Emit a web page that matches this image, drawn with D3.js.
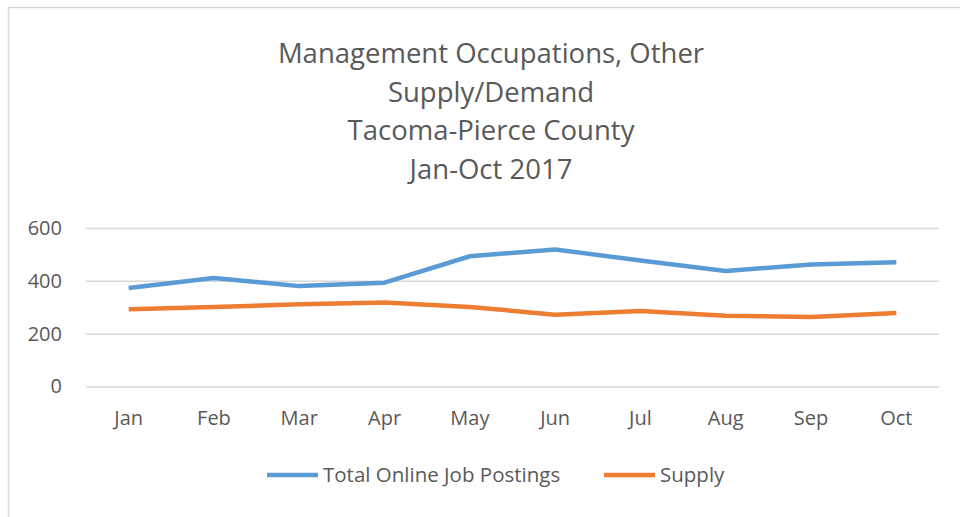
<!DOCTYPE html>
<html>
<head>
<meta charset="utf-8">
<script src="https://cdn.jsdelivr.net/npm/d3@7"></script>
<style>
  body { margin: 0; background: #fff; }
  text { font-family: "Open Sans", sans-serif; fill: #595959; }
</style>
</head>
<body>
<div id="chart"></div>
<script>
// chart data
var months = ["Jan", "Feb", "Mar", "Apr", "May", "Jun", "Jul", "Aug", "Sep", "Oct"];
var postings = [373, 411, 380, 393, 493, 519, 477, 437, 462, 470];
var supply = [292, 301, 311, 318, 301, 272, 286, 268, 263, 278];
var yTicks = [0, 200, 400, 600];
var titleLines = ["Management Occupations, Other", "Supply/Demand", "Tacoma-Pierce County", "Jan-Oct 2017"];
var seriesNames = ["Total Online Job Postings", "Supply"];
var colors = ["#5B9BD5", "#ED7D31"];

var svg = d3.select("#chart").append("svg")
    .attr("width", 960)
    .attr("height", 517);

// outer chart border
svg.append("rect")
    .attr("x", 8.5).attr("y", 7.5)
    .attr("width", 980).attr("height", 540)
    .attr("fill", "none")
    .attr("stroke", "#D9D9D9")
    .attr("stroke-width", 1.5);

// title
svg.append("g").selectAll("text")
    .data(titleLines)
    .enter().append("text")
    .attr("x", 491)
    .attr("y", function (d, i) { return 63 + i * 38.7; })
    .attr("text-anchor", "middle")
    .style("font-size", "27.5px")
    .text(function (d) { return d; });

var x = d3.scaleBand()
    .domain(months)
    .range([86, 939]);

var y = d3.scaleLinear()
    .domain([0, 600])
    .range([386.5, 228]);

// gridlines + y labels
var yAxis = svg.append("g")
    .attr("transform", "translate(86,0)")
    .call(d3.axisLeft(y).tickValues(yTicks).tickSize(-853).tickPadding(24));
yAxis.select(".domain").remove();
yAxis.selectAll("line").attr("stroke", "#D9D9D9").attr("stroke-width", 1.5);
yAxis.selectAll("text").style("font-size", "20px").attr("fill", "#595959");

// x labels
var xAxis = svg.append("g")
    .attr("transform", "translate(0,386.5)")
    .call(d3.axisBottom(x).tickSize(0).tickPadding(24));
xAxis.select(".domain").remove();
xAxis.selectAll("text").style("font-size", "20px").attr("fill", "#595959");

// lines
var line = d3.line()
    .x(function (d, i) { return x(months[i]) + x.bandwidth() / 2; })
    .y(function (d) { return y(d); });

svg.append("g").selectAll("path")
    .data([postings, supply])
    .enter().append("path")
    .attr("d", line)
    .attr("fill", "none")
    .attr("stroke", function (d, i) { return colors[i]; })
    .attr("stroke-width", 4.5)
    .attr("stroke-linejoin", "round");

// legend
var legendX = [267, 604];
var legend = svg.append("g").selectAll("g")
    .data(seriesNames)
    .enter().append("g")
    .attr("transform", function (d, i) { return "translate(" + legendX[i] + ",475)"; });
legend.append("line")
    .attr("x1", 0).attr("x2", 51)
    .attr("stroke", function (d, i) { return colors[i]; })
    .attr("stroke-width", 4.5);
legend.append("text")
    .attr("x", 56)
    .attr("dy", "0.35em")
    .style("font-size", "20.5px")
    .text(function (d) { return d; });
</script>
</body>
</html>
